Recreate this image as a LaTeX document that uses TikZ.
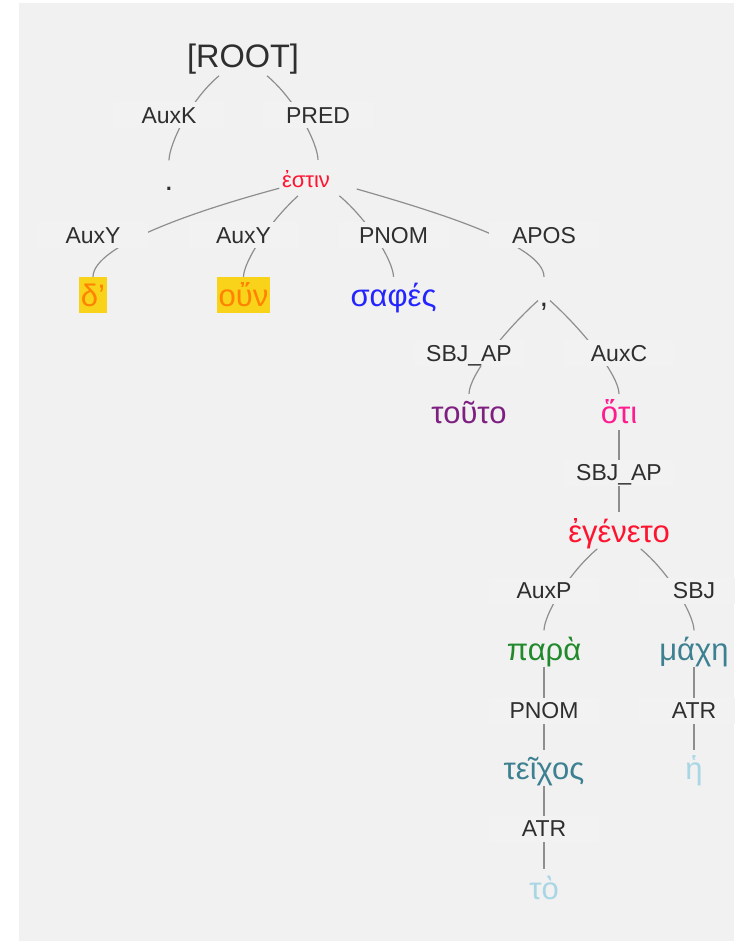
\documentclass[tikz,border=0pt]{standalone}
\usepackage{fontspec}
\setmainfont{Liberation Sans}
\usepackage{xcolor}
\usepackage{tikz}
\usetikzlibrary{calc}
\definecolor{panel}{HTML}{F1F1F1}
\definecolor{labbg}{HTML}{F2F2F2}
\definecolor{labtxt}{HTML}{2E2E2E}
\definecolor{linkgray}{HTML}{8E8E8E}
\definecolor{verbred}{HTML}{FF1430}
\definecolor{hlyellow}{HTML}{F9D31A}
\definecolor{hlorange}{HTML}{FF8200}
\definecolor{adjblue}{HTML}{2424FF}
\definecolor{pronpurple}{HTML}{7E2080}
\definecolor{conjpink}{HTML}{FF1C8E}
\definecolor{prepgreen}{HTML}{21892B}
\definecolor{nounteal}{HTML}{3D8091}
\definecolor{artblue}{HTML}{A9D6E5}

\begin{document}
\begin{tikzpicture}[x=1pt,y=-1pt,
    word/.style={font=\fontsize{31}{36}\selectfont,anchor=mid,inner sep=1.5pt,text height=28pt,text depth=5pt},
    hl/.style={word,fill=hlyellow,text=hlorange},
    lab/.style={font=\fontsize{23}{26}\selectfont,text=labtxt,fill=labbg,minimum width=110pt,minimum height=26pt,text height=16.5pt,text depth=0pt,inner sep=0pt},
    link/.style={draw=linkgray,line width=1.2pt},
    dn/.style={in=90,in looseness=0.4}]
    \useasboundingbox (0,0) rectangle (734,941);
    \fill[white] (0,0) rectangle (734,941);
    \fill[panel] (19,3) rectangle (734,941);

    \draw[] (243,64.5) node[word,font=\fontsize{32.5}{38}\selectfont,text=labtxt,text height=30pt,text depth=7pt] (root) {[ROOT]};
    \draw[] (169,187.5) node[word,text=labtxt] (dot) {.};
    \draw[] (318,185) node[word,font=\fontsize{22}{26}\selectfont,text=verbred,text height=26pt,text depth=6.5pt,text width=72pt,align=left,inner xsep=2.5pt] (estin) {ἐστιν};
    \draw[] (93,304) node[hl] (delta) {δ’};
    \draw[] (243.5,304) node[hl] (oun) {οὔν};
    \draw[] (393.5,304) node[word,text=adjblue] (saphes) {σαφές};
    \draw[] (544,304) node[word,text=labtxt] (comma) {,};
    \draw[] (469,421) node[word,text=pronpurple] (touto) {τοῦτο};
    \draw[] (619,421) node[word,text=conjpink] (hoti) {ὅτι};
    \draw[] (619,539.5) node[word,text=verbred] (egeneto) {ἐγένετο};
    \draw[] (544,657.5) node[word,text=prepgreen] (para) {παρὰ};
    \draw[] (694,657.5) node[word,text=nounteal] (mache) {μάχη};
    \draw[] (544,777) node[word,text=nounteal] (teichos) {τεῖχος};
    \draw[] (694,777) node[word,text=artblue] (heArt) {ἡ};
    \draw[] (544,896.5) node[word,text=artblue] (toArt) {τὸ};

    \draw[link] (root) to[out=220,dn] (dot);
    \draw[link] (root) to[out=-40,dn] (estin);
    \draw[link] (estin) to[out=195,dn] (delta);
    \draw[link] (estin) to[out=222,dn] (oun);
    \draw[link] (estin) to[out=-40,dn] (saphes);
    \draw[link] (estin) to[out=-16,dn] (comma);
    \draw[link] (comma) to[out=222,dn] (touto);
    \draw[link] (comma) to[out=-42,dn] (hoti);
    \draw[link] (hoti) -- (egeneto);
    \draw[link] (egeneto) to[out=220,dn] (para);
    \draw[link] (egeneto) to[out=-40,dn] (mache);
    \draw[link] (para) -- (teichos);
    \draw[link] (mache) -- (heArt);
    \draw[link] (teichos) -- (toArt);

    \draw[] (169,115) node[lab] (lAuxK) {AuxK};
    \draw[] (318,115) node[lab] (lPred) {PRED};
    \draw[] (93,235) node[lab] (lAuxY) {AuxY};
    \draw[] (243.5,235) node[lab] (lAuxYb) {AuxY};
    \draw[] (393.5,235) node[lab] (lPnom) {PNOM};
    \draw[] (544,235) node[lab] (lApos) {APOS};
    \draw[] (469,353) node[lab] (lSbjAp) {SBJ\_AP};
    \draw[] (619,353) node[lab] (lAuxC) {AuxC};
    \draw[] (619,472.5) node[lab] (lSbjApb) {SBJ\_AP};
    \draw[] (544,590.5) node[lab] (lAuxP) {AuxP};
    \draw[] (694,590.5) node[lab] (lSbj) {SBJ};
    \draw[] (544,710.5) node[lab] (lPnomb) {PNOM};
    \draw[] (694,710.5) node[lab] (lAtr) {ATR};
    \draw[] (544,828.5) node[lab] (lAtrb) {ATR};
\end{tikzpicture}
\end{document}
